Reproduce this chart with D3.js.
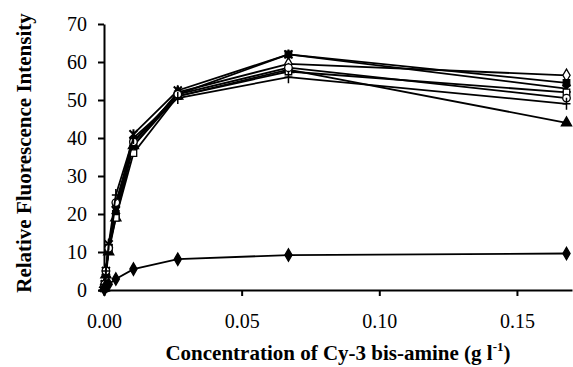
<!DOCTYPE html>
<html>
<head>
<meta charset="utf-8">
<script src="https://cdn.jsdelivr.net/npm/d3@7"></script>
<style>
  body { margin: 0; background: #fff; }
</style>
</head>
<body>
<div id="chart"></div>
<script>
// concentrations (g/l), serial 2.5x dilution
var conc = [0.00011, 0.00027, 0.00069, 0.0017, 0.0043, 0.0107, 0.0268, 0.067, 0.168];

var openDiamond  = [0.5, 1.5, 5, 11, 22, 38, 52, 59.5, 56.5];
var filledSquare = [0.5, 1.5, 5, 11, 20, 39, 51.5, 62, 54.5];
var crossSeries  = [0.5, 1.5, 5, 12, 21, 41, 52.5, 62, 53];
var filledTri    = [0.5, 1.5, 4, 10, 19, 38, 51, 58, 44];
var openSquare   = [0.5, 1.5, 5, 11, 19, 36, 51, 57.5, 52];
var openCircle   = [0.5, 1.5, 5, 11, 23, 39, 51.5, 58.5, 50.5];
var plusSeries   = [0.5, 1.5, 5, 12, 25, 40, 50.5, 56, 49];
var filledDiam   = [0.2, 0.5, 1, 1.5, 2.9, 5.5, 8.1, 9.2, 9.6];

var xTicks = [0, 0.05, 0.10, 0.15];
var yTicks = [0, 10, 20, 30, 40, 50, 60, 70];

var w = 573, h = 367;
var serif = "'Liberation Serif', 'Times New Roman', serif";

var svg = d3.select("#chart").append("svg")
  .attr("width", w)
  .attr("height", h);

var xScale = d3.scaleLinear().domain([0, 0.17]).range([104, 572]);
var yScale = d3.scaleLinear().domain([0, 70]).range([290, 24]);

var series = [
  {vals: openDiamond,  sym: d3.symbolDiamond,  fill: "#fff", size: 45},
  {vals: filledSquare, sym: d3.symbolSquare,   fill: "#000", size: 42},
  {vals: crossSeries,  sym: "x",               fill: "none"},
  {vals: filledTri,    sym: d3.symbolTriangle, fill: "#000", size: 45},
  {vals: openSquare,   sym: d3.symbolSquare,   fill: "#fff", size: 42},
  {vals: openCircle,   sym: d3.symbolCircle,   fill: "#fff", size: 45},
  {vals: plusSeries,   sym: "plus",            fill: "none"},
  {vals: filledDiam,   sym: d3.symbolDiamond,  fill: "#000", size: 45}
];

var line = d3.line()
  .x(function(d) { return xScale(d[0]); })
  .y(function(d) { return yScale(d[1]); });

// axes
var x_axis = d3.axisBottom(xScale).tickValues(xTicks)
  .tickFormat(d3.format(".2f")).tickSizeInner(6).tickSizeOuter(0).tickPadding(18);
var y_axis = d3.axisLeft(yScale).tickValues(yTicks)
  .tickSizeInner(6).tickSizeOuter(0).tickPadding(11);

var gx = svg.append("g")
  .attr("transform", "translate(0,290)")
  .call(x_axis);
var gy = svg.append("g")
  .attr("transform", "translate(104,0)")
  .call(y_axis);

[gx, gy].forEach(function(g) {
  g.attr("font-family", null).attr("font-size", null);
  g.selectAll("text")
    .style("font-family", serif).style("font-size", "20px")
    .attr("fill", "#000");
  g.selectAll("path, line").attr("stroke", "#000").attr("stroke-width", 2);
});

series.forEach(function(s) {
  var pts = conc.map(function(c, i) { return [c, s.vals[i]]; });
  svg.append("path")
    .attr("d", line(pts))
    .attr("fill", "none")
    .attr("stroke", "#000")
    .attr("stroke-width", 1.8);

  var g = svg.append("g");
  pts.forEach(function(p) {
    var px = xScale(p[0]), py = yScale(p[1]);
    var m = g.append("path").attr("transform", "translate(" + px + "," + py + ")");
    if (s.sym === "plus") {
      m.attr("d", "M-4,0H4M0,-6V6").attr("stroke", "#000").attr("stroke-width", 1.5);
    } else if (s.sym === "x") {
      m.attr("d", "M-4,-4L4,4M-4,4L4,-4M0,-5V5").attr("stroke", "#000").attr("stroke-width", 2);
    } else {
      m.attr("d", d3.symbol().type(s.sym).size(s.size)())
        .attr("fill", s.fill)
        .attr("stroke", "#000")
        .attr("stroke-width", 1.3);
    }
  });
});

// titles
svg.append("text")
  .style("font-family", serif).style("font-size", "21px").style("font-weight", "bold")
  .attr("transform", "translate(31,153) rotate(-90)")
  .attr("text-anchor", "middle")
  .text("Relative Fluorescence Intensity");

var xt = svg.append("text")
  .style("font-family", serif).style("font-size", "21px").style("font-weight", "bold")
  .attr("x", 338).attr("y", 360)
  .attr("text-anchor", "middle");
xt.append("tspan").text("Concentration of Cy-3 bis-amine (g l");
xt.append("tspan").style("font-size", "13px").attr("dy", -9).text("-1");
xt.append("tspan").attr("dy", 9).text(")");
</script>
</body>
</html>
